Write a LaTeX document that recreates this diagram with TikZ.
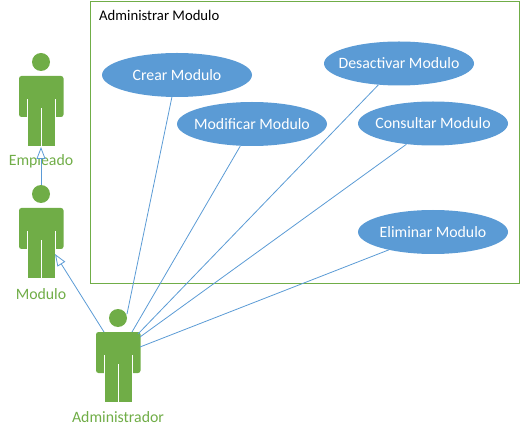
\documentclass[tikz,border=0pt]{standalone}
\usepackage{fontspec}
\setmainfont{Carlito}
\usetikzlibrary{arrows.meta,shapes.geometric}
\definecolor{actorgreen}{HTML}{70AD47}
\definecolor{caseblue}{HTML}{5B9BD5}
\tikzset{
  casenode/.style={ellipse,fill=caseblue,text=white,minimum width=150,minimum height=44,inner sep=0pt,font=\fontsize{15.8}{17}\selectfont},
  actornode/.style={minimum width=44,minimum height=84,inner sep=0pt},
  actorname/.style={text=actorgreen,inner sep=0pt,font=\fontsize{15.8}{17}\selectfont},
  link/.style={draw=caseblue,line width=0.8},
  inherit/.style={link,-{Triangle[open,length=12,width=9,fill=white]}}
}
% ellipse takes its size from the style, not from the text
\newcommand{\casetext}[1]{\makebox[0pt]{#1}}
% actor figure, the name is the invisible node round it
\newcommand{\actorfig}[3]{
  \node[actornode] (#1) at (#2,#3) {};
  \fill[actorgreen] (#2,#3-43) circle (9);
  \fill[actorgreen,rounded corners=2.5] (#2-22,#3-29) rectangle (#2+22.5,#3+12);
  \fill[actorgreen] (#2-13,#3-10) rectangle (#2+14,#3+41);
  \fill[white] (#2-13.6,#3-6) rectangle (#2-13,#3+12.5);
  \fill[white] (#2+14,#3-6) rectangle (#2+14.6,#3+12.5);
  \fill[white] (#2-0.4,#3+3) rectangle (#2+0.4,#3+42);
}
\begin{document}
\begin{tikzpicture}[x=1pt,y=-1pt]
  \useasboundingbox (0,0) rectangle (521,435);
  %frame
  \node[draw=actorgreen,line width=0.8,minimum width=428.5,minimum height=282,inner sep=0pt] (frame) at (304.75,142) {};
  \node[anchor=west,inner sep=0pt,font=\fontsize{14.7}{16}\selectfont] (title) at (99,15.5) {Administrar Modulo};
  %actors
  \actorfig{empleado}{41}{105}
  \actorfig{modulo}{41}{237}
  \actorfig{admin}{118}{361}
  \node[actorname] (empleadoname) at (41,161) {Empleado};
  \node[actorname] (moduloname) at (41,294) {Modulo};
  \node[actorname] (adminname) at (118,417) {Administrador};
  %use cases
  \node[casenode] (crear) at (177,75) {\casetext{Crear Modulo}};
  \node[casenode] (modificar) at (252,124) {\casetext{Modificar Modulo}};
  \node[casenode] (desactivar) at (399,63.5) {\casetext{Desactivar Modulo}};
  \node[casenode] (consultar) at (433,123.5) {\casetext{Consultar Modulo}};
  \node[casenode] (eliminar) at (433,232) {\casetext{Eliminar Modulo}};
  %ends on the actors
  \coordinate (admincrear) at (127,314);
  \coordinate (adminmodificar) at (132,332);
  \coordinate (admindesactivar) at (138,334);
  \coordinate (adminconsultar) at (140,337);
  \coordinate (admineliminar) at (140,347);
  \coordinate (adminmodulo) at (104,332);
  \coordinate (moduloarrow) at (55,254);
  \coordinate (modulotop) at (41,185);
  \coordinate (empleadoarrow) at (41,147);
  %connectors
  \draw[link] (admincrear) -- (crear.-103);
  \draw[link] (adminmodificar) -- (modificar.-118);
  \draw[link] (admindesactivar) -- (desactivar.-134);
  \draw[link] (adminconsultar) -- (consultar.-142);
  \draw[link] (admineliminar) -- (eliminar.-158);
  \draw[inherit] (adminmodulo) -- (moduloarrow);
  \draw[inherit] (modulotop) -- (empleadoarrow);
\end{tikzpicture}
\end{document}
